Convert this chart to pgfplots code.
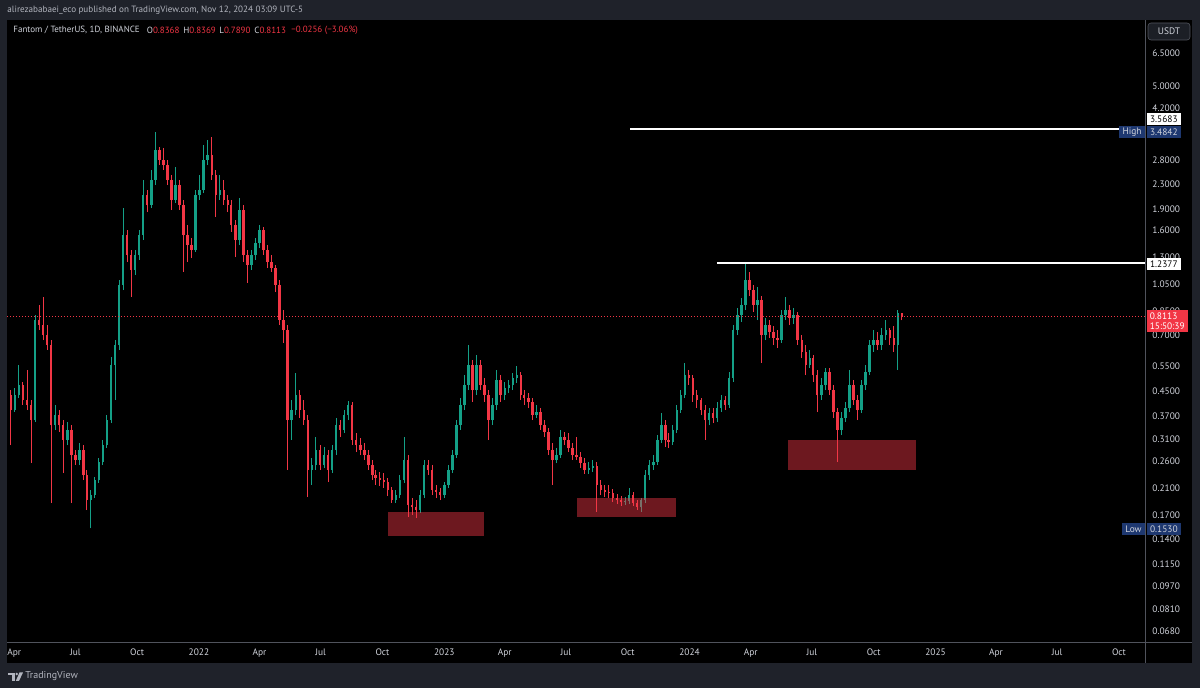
\documentclass[border=0pt]{standalone}
\usepackage{fontspec}
\setmainfont{PT Sans}
\usepackage{pgfplots}
\pgfplotsset{compat=1.18}
\usepackage{pgfplotstable}
\definecolor{framebg}{RGB}{31,34,42}
\definecolor{sepgrey}{RGB}{80,83,92}
\definecolor{axtext}{RGB}{209,212,220}
\definecolor{hdtext}{RGB}{178,181,190}
\definecolor{tvred}{RGB}{242,54,69}
\definecolor{tvgreen}{RGB}{20,160,135}
\definecolor{navylab}{RGB}{30,56,112}
\definecolor{usdtbg}{RGB}{28,31,38}
\newcommand\fs[1]{\fontsize{#1}{#1}\selectfont}

% FTM/USDT, sampled candles: d = days since 2022-01-01, open high low close
\pgfplotstableread{
d o h l c
-280 0.4378 0.4554 0.2951 0.3889
-274 0.3889 0.4627 0.3828 0.4378
-268 0.4378 0.5548 0.4275 0.4738
-262 0.4738 0.4851 0.4046 0.4209
-256 0.4209 0.5333 0.3889 0.4046
-250 0.4046 0.4209 0.2560 0.3594
-244 0.3594 0.8229 0.3538 0.7912
-238 0.7912 0.8903 0.7311 0.7605
-232 0.7605 0.9485 0.6756 0.7029
-226 0.7029 0.7605 0.6245 0.6496
-220 0.6496 0.6756 0.1867 0.3455
-214 0.3455 0.4046 0.3322 0.3739
-208 0.3739 0.3889 0.3270 0.3455
-202 0.3455 0.3594 0.2366 0.3070
-196 0.3070 0.3538 0.2951 0.3322
-190 0.3322 0.3455 0.1867 0.2727
-184 0.2727 0.2837 0.2520 0.2622
-178 0.2622 0.2998 0.2520 0.2837
-172 0.2837 0.2951 0.2239 0.2329
-167 0.2329 0.2423 0.1767 0.1912
-161 0.1912 0.2069 0.1530 0.1989
-155 0.1989 0.2292 0.1942 0.2239
-149 0.2239 0.2663 0.2187 0.2581
-143 0.2581 0.3070 0.2520 0.2951
-137 0.2951 0.3739 0.2882 0.3594
-131 0.3594 0.5909 0.3510 0.5548
-125 0.5548 0.6756 0.4209 0.6496
-119 0.6496 1.085 0.6245 1.043
-113 1.043 1.914 1.002 1.547
-107 1.547 1.609 1.250 1.321
-101 1.321 1.374 0.9485 1.174
-95 1.174 1.374 1.128 1.321
-89 1.321 1.609 1.270 1.547
-83 1.547 2.388 1.487 2.121
-77 2.121 2.206 1.854 1.960
-71 1.960 2.583 1.914 2.388
-65 2.388 3.4842 2.295 3.025
-59 3.025 3.098 2.688 2.796
-53 2.796 3.073 2.583 2.688
-47 2.688 2.796 2.295 2.388
-41 2.388 2.483 1.884 2.039
-35 2.039 2.646 1.991 2.295
-29 2.295 2.388 1.884 1.960
-23 1.960 2.039 1.156 1.547
-17 1.547 1.674 1.250 1.430
-11 1.430 1.511 1.290 1.374
-5 1.374 2.206 1.352 2.121
1 2.121 2.483 2.039 2.206
7 2.206 3.147 2.154 2.796
13 2.796 3.273 2.688 2.908
19 2.908 3.351 2.388 2.483
25 2.483 2.583 1.783 2.121
31 2.121 2.483 2.039 2.206
37 2.206 2.388 1.960 2.039
43 2.039 2.121 1.854 1.960
48 1.960 2.039 1.584 1.674
54 1.674 1.741 1.300 1.487
60 1.487 2.071 1.430 1.884
66 1.884 1.960 1.250 1.321
72 1.321 1.374 1.060 1.221
78 1.221 1.374 1.174 1.321
84 1.321 1.511 1.270 1.452
90 1.452 1.674 1.397 1.609
96 1.609 1.648 1.321 1.374
102 1.374 1.430 1.192 1.250
108 1.250 1.321 1.156 1.192
114 1.192 1.221 0.9863 1.043
120 1.043 1.085 0.7605 0.7912
126 0.7912 0.8561 0.6599 0.7311
132 0.7311 0.7605 0.2423 0.3594
138 0.3594 0.4209 0.3070 0.3889
144 0.3889 0.5208 0.3739 0.4378
150 0.4378 0.4554 0.3651 0.3889
156 0.3889 0.4209 0.3455 0.3594
162 0.3594 0.3739 0.1958 0.2423
168 0.2423 0.2663 0.2153 0.2520
174 0.2520 0.3143 0.2423 0.2837
180 0.2837 0.2951 0.2423 0.2520
186 0.2520 0.2905 0.2461 0.2727
192 0.2727 0.2837 0.2204 0.2423
198 0.2423 0.2951 0.2366 0.2837
204 0.2837 0.3651 0.2727 0.3455
210 0.3455 0.3594 0.3143 0.3322
216 0.3322 0.3889 0.3244 0.3739
222 0.3739 0.4176 0.3594 0.4046
228 0.4046 0.4143 0.2951 0.3070
234 0.3070 0.3244 0.2792 0.2951
240 0.2951 0.3119 0.2727 0.2837
246 0.2837 0.2998 0.2622 0.2727
252 0.2727 0.2837 0.2423 0.2520
258 0.2520 0.2622 0.2239 0.2329
263 0.2329 0.2423 0.2153 0.2274
269 0.2274 0.2385 0.2136 0.2239
275 0.2239 0.2366 0.2103 0.2204
281 0.2204 0.2274 0.1973 0.2069
287 0.2069 0.2119 0.1867 0.1912
293 0.1912 0.2069 0.1867 0.1989
299 0.1989 0.2329 0.1942 0.2239
305 0.2239 0.3143 0.2187 0.2622
311 0.2622 0.2727 0.1672 0.1838
317 0.1838 0.1942 0.1699 0.1809
323 0.1809 0.1912 0.1659 0.1767
329 0.1767 0.2069 0.1726 0.1989
335 0.1989 0.2622 0.1942 0.2520
341 0.2520 0.2622 0.2329 0.2423
347 0.2423 0.2520 0.1989 0.2069
353 0.2069 0.2153 0.1942 0.2037
359 0.2037 0.2103 0.1912 0.1989
365 0.1989 0.2204 0.1942 0.2153
371 0.2153 0.2520 0.2103 0.2423
377 0.2423 0.2837 0.2366 0.2727
383 0.2727 0.3594 0.2663 0.3455
389 0.3455 0.4275 0.3322 0.4046
395 0.4046 0.5126 0.3889 0.4738
401 0.4738 0.6496 0.4554 0.5548
407 0.5548 0.5771 0.4143 0.4554
413 0.4554 0.6003 0.4378 0.5548
419 0.5548 0.5771 0.4554 0.4738
425 0.4738 0.5006 0.4143 0.4378
431 0.4378 0.4554 0.3070 0.3594
437 0.3594 0.4275 0.3455 0.4046
443 0.4046 0.5333 0.3889 0.4929
449 0.4929 0.5126 0.4143 0.4378
455 0.4378 0.4851 0.4209 0.4627
461 0.4627 0.4929 0.4447 0.4738
467 0.4738 0.5208 0.4554 0.5006
473 0.5006 0.5504 0.4814 0.5126
479 0.5126 0.5249 0.4209 0.4378
484 0.4378 0.4554 0.4046 0.4275
490 0.4275 0.4447 0.3951 0.4143
496 0.4143 0.4275 0.3594 0.3739
502 0.3739 0.4046 0.3651 0.3828
508 0.3828 0.3951 0.3322 0.3455
514 0.3455 0.3594 0.3143 0.3270
520 0.3270 0.3375 0.2727 0.2837
526 0.2837 0.2998 0.2153 0.2622
532 0.2622 0.2882 0.2560 0.2727
538 0.2727 0.3322 0.2663 0.3143
544 0.3143 0.3270 0.2951 0.3070
550 0.3070 0.3244 0.2792 0.2882
556 0.2882 0.2998 0.2622 0.2727
562 0.2727 0.3143 0.2622 0.2684
568 0.2684 0.2792 0.2461 0.2560
574 0.2560 0.2663 0.2348 0.2423
580 0.2423 0.2581 0.2348 0.2461
586 0.2461 0.2622 0.2385 0.2500
592 0.2500 0.2581 0.1739 0.2153
598 0.2153 0.2239 0.1989 0.2069
604 0.2069 0.2153 0.1958 0.2037
610 0.2037 0.2153 0.1942 0.2021
616 0.2021 0.2085 0.1882 0.1942
622 0.1942 0.2005 0.1853 0.1912
628 0.1912 0.1973 0.1824 0.1882
634 0.1882 0.1958 0.1838 0.1897
640 0.1897 0.2103 0.1853 0.1989
646 0.1989 0.2037 0.1824 0.1867
652 0.1867 0.1912 0.1767 0.1809
658 0.1809 0.1942 0.1739 0.1912
664 0.1912 0.2423 0.1867 0.2329
670 0.2329 0.2622 0.2239 0.2520
676 0.2520 0.2727 0.2423 0.2581
682 0.2581 0.3193 0.2520 0.3070
688 0.3070 0.3798 0.2998 0.3455
694 0.3455 0.3594 0.2905 0.3070
699 0.3070 0.3244 0.2882 0.3022
705 0.3022 0.3455 0.2951 0.3322
711 0.3322 0.4046 0.3244 0.3889
717 0.3889 0.4554 0.3798 0.4378
723 0.4378 0.5636 0.4275 0.5126
729 0.5126 0.5333 0.4738 0.5006
735 0.5006 0.5126 0.4143 0.4378
741 0.4378 0.4554 0.3951 0.4209
747 0.4209 0.4275 0.3739 0.3889
753 0.3889 0.4046 0.3070 0.3594
759 0.3594 0.3951 0.3455 0.3798
765 0.3798 0.3951 0.3510 0.3651
771 0.3651 0.4143 0.3538 0.3951
777 0.3951 0.4378 0.3828 0.4209
783 0.4209 0.4344 0.3889 0.4046
789 0.4046 0.5249 0.3951 0.5006
795 0.5006 0.7605 0.4851 0.7311
801 0.7311 0.8697 0.7029 0.8229
807 0.8229 0.9411 0.7788 0.8903
813 0.8903 1.2377 0.8561 1.085
819 1.085 1.156 0.9560 1.002
825 1.002 1.043 0.8427 0.8903
831 0.8903 1.027 0.7912 0.9264
837 0.9264 0.9560 0.5636 0.7029
843 0.7029 0.8036 0.6756 0.7605
849 0.7605 0.7912 0.6865 0.7196
855 0.7196 0.7545 0.6496 0.6865
861 0.6865 0.7311 0.6344 0.6756
867 0.6756 0.8561 0.6599 0.8229
873 0.8229 0.9485 0.7912 0.8561
879 0.8561 0.8903 0.7605 0.8036
885 0.8036 0.8697 0.7665 0.8229
891 0.8229 0.8427 0.6496 0.6756
897 0.6756 0.7029 0.5862 0.6147
903 0.6147 0.6496 0.5126 0.5548
909 0.5548 0.6245 0.5418 0.5862
914 0.5862 0.6003 0.4851 0.5126
920 0.5126 0.5333 0.3828 0.4378
926 0.4378 0.5006 0.4209 0.4738
932 0.4738 0.5418 0.4554 0.5249
938 0.5249 0.5418 0.4378 0.4554
944 0.4554 0.4738 0.3651 0.3828
950 0.3828 0.3951 0.2581 0.3322
956 0.3322 0.3828 0.3193 0.3651
962 0.3651 0.4143 0.3538 0.3951
968 0.3951 0.5333 0.3828 0.4738
974 0.4738 0.4929 0.4046 0.4209
980 0.4209 0.4378 0.3594 0.3889
986 0.3889 0.4929 0.3798 0.4738
992 0.4738 0.5548 0.4554 0.5249
998 0.5249 0.6756 0.5126 0.6496
1004 0.6496 0.7311 0.6147 0.6756
1010 0.6756 0.7196 0.6245 0.6496
1016 0.6496 0.7427 0.6245 0.7029
1022 0.7029 0.7912 0.6756 0.7311
1028 0.7311 0.7427 0.6496 0.6865
1034 0.6865 0.7545 0.6147 0.6496
1040 0.6496 0.8561 0.5333 0.8361
1046 0.8368 0.8369 0.7890 0.8113
}\ftm

\begin{document}
\begin{tikzpicture}[x=0.5pt,y=0.5pt]
\fill[framebg] (0,0) rectangle (1200,688);
\fill[black] (7,25) rectangle (1192,668);
\begin{axis}[
  at={(3.5pt,22.5pt)}, anchor=south west,
  width=569.35pt, height=311.5pt, scale only axis,
  xmin=-285.7, xmax=1408.8, ymin=-1.2083, ymax=0.9260,
  axis line style={draw=none}, major tick length=0pt, tick style={draw=none},
  xtick={-275,-184,-92,0,90,181,273,365,455,546,638,730,821,912,1004,1096,1186,1277,1369},
  xticklabels={Apr,Jul,Oct,2022,Apr,Jul,Oct,2023,Apr,Jul,Oct,2024,Apr,Jul,Oct,2025,Apr,Jul,Oct},
  ytick={0.81291,0.69897,0.62325,0.44716,0.36173,0.27875,0.20412,0.11394,0.02119,-0.07058,-0.15490,-0.25964,-0.34679,-0.43180,-0.50864,-0.58503,-0.67778,-0.76955,-0.85387,-0.93930,-1.01323,-1.09151,-1.16749},
  yticklabels={6.5000,5.0000,4.2000,2.8000,2.3000,1.9000,1.6000,1.3000,1.0500,0.8500,0.7000,0.5500,0.4500,0.3700,0.3100,0.2600,0.2100,0.1700,0.1400,0.1150,0.0970,0.0810,0.0680},
  yticklabel pos=right,
  tick label style={font=\fs{4.7}, text=axtext},
  yticklabel style={anchor=west, xshift=3.15pt, inner sep=0pt},
  xticklabel style={anchor=center, yshift=-4.85pt, inner sep=0pt},
]
% wicks
\addplot[draw=none, mark=none, forget plot,
  restrict expr to domain={\thisrow{c}-\thisrow{o}}{0:100},
  error bars/.cd, y dir=plus, y explicit, error mark=none,
  error bar style={draw=tvgreen, line width=0.45pt}]
  table[x=d, y expr={ln(\thisrow{l})/ln(10)}, y error plus expr={(ln(\thisrow{h})-ln(\thisrow{l}))/ln(10)}] {\ftm};
\addplot[draw=none, mark=none, forget plot,
  restrict expr to domain={\thisrow{c}-\thisrow{o}}{-100:0},
  error bars/.cd, y dir=plus, y explicit, error mark=none,
  error bar style={draw=tvred, line width=0.45pt}]
  table[x=d, y expr={ln(\thisrow{l})/ln(10)}, y error plus expr={(ln(\thisrow{h})-ln(\thisrow{l}))/ln(10)}] {\ftm};
% bodies
\addplot[draw=none, mark=none, forget plot,
  restrict expr to domain={\thisrow{c}-\thisrow{o}}{0:100},
  error bars/.cd, y dir=plus, y explicit, error mark=none,
  error bar style={draw=tvgreen, line width=1.25pt}]
  table[x=d, y expr={ln(\thisrow{o})/ln(10)}, y error plus expr={(ln(\thisrow{c})-ln(\thisrow{o}))/ln(10)}] {\ftm};
\addplot[draw=none, mark=none, forget plot,
  restrict expr to domain={\thisrow{c}-\thisrow{o}}{-100:0},
  error bars/.cd, y dir=plus, y explicit, error mark=none,
  error bar style={draw=tvred, line width=1.25pt}]
  table[x=d, y expr={ln(\thisrow{c})/ln(10)}, y error plus expr={(ln(\thisrow{o})-ln(\thisrow{c}))/ln(10)}] {\ftm};
% support zones
\addplot[forget plot, fill=tvred, fill opacity=0.45, draw=none, mark=none] coordinates {(281.3,-0.7595) (424.1,-0.7595) (424.1,-0.8417) (281.3,-0.8417)} -- cycle;
\addplot[forget plot, fill=tvred, fill opacity=0.45, draw=none, mark=none] coordinates {(562.5,-0.7115) (709.8,-0.7115) (709.8,-0.7767) (562.5,-0.7767)} -- cycle;
\addplot[forget plot, fill=tvred, fill opacity=0.45, draw=none, mark=none] coordinates {(876.5,-0.5128) (1067.0,-0.5128) (1067.0,-0.6156) (876.5,-0.6156)} -- cycle;
% horizontal levels
\addplot[forget plot, white, line width=0.9pt, mark=none] coordinates {(641.4,0.552458) (1408.8,0.552458)};
\addplot[forget plot, white, line width=0.9pt, mark=none] coordinates {(770.8,0.092615) (1408.8,0.092615)};
\addplot[forget plot, tvred, line width=0.35pt, mark=none, dash pattern=on 0.5pt off 1pt] coordinates {(-285.7,-0.090817) (1408.8,-0.090817)};
\end{axis}
% separators
\draw[sepgrey, line width=0.5pt] (1145.7,25) -- (1145.7,668);
\draw[sepgrey, line width=0.5pt] (7,45) -- (1192,45);
% header
\node[anchor=west, inner sep=0pt, text=hdtext, font=\fs{4.55}] at (7,678) {alirezababaei\_eco published on TradingView.com, Nov 12, 2024 03:09 UTC-5};
% legend line
\begin{scope}[every node/.style={anchor=west, inner sep=0pt, font=\fs{4.5}, text=axtext}]
\node at (13,658) {Fantom / TetherUS, 1D, BINANCE};
\node at (146.5,658) {O\textcolor{tvred}{0.8368}};
\node at (183,658) {H\textcolor{tvred}{0.8369}};
\node at (219,658) {L\textcolor{tvred}{0.7890}};
\node at (254,658) {C\textcolor{tvred}{0.8113}};
\node at (291,658) {\textcolor{tvred}{−0.0256 (−3.06\%)}};
\end{scope}
% price scale labels
\fill[usdtbg, draw=sepgrey, line width=0.3pt, rounded corners=1.5pt] (1148,648) rectangle (1190,665);
\node[text=axtext, font=\fs{4.7}, inner sep=0pt] at (1169,656.5) {USDT};
\begin{scope}[every node/.style={inner sep=0pt, inner xsep=1.6pt, minimum height=6pt, font=\fs{4.7}}]
\node[anchor=west, fill=white, text=black] at (1146.5,569) {3.5683};
\node[anchor=west, fill=navylab, text=axtext] at (1146.5,556) {3.4842};
\node[anchor=east, fill=navylab, text=axtext] at (1145.2,556) {High};
\node[anchor=west, fill=white, text=black] at (1146.5,424) {1.2377};
\node[anchor=west, fill=navylab, text=axtext] at (1146.5,159) {0.1530};
\node[anchor=east, fill=navylab, text=axtext] at (1145.2,159) {Low};
\node[anchor=north west, fill=tvred, text=white, align=left, inner ysep=1.2pt, font=\fontsize{4.7}{5.2}\selectfont] at (1146.2,378) {0.8113\\15:50:39};
\end{scope}
% footer logo
\fill[hdtext] (8,15) rectangle (14.5,12.5);
\fill[hdtext] (12,12.5) rectangle (14.5,7);
\fill[hdtext] (16.8,14) circle (1.4);
\fill[hdtext] (19.5,15.5) -- (23,15.5) -- (19,7) -- (15.8,7) -- cycle;
\node[anchor=west, inner sep=0pt, text=hdtext, font=\fs{5}] at (25,11.5) {TradingView};
\end{tikzpicture}
\end{document}
